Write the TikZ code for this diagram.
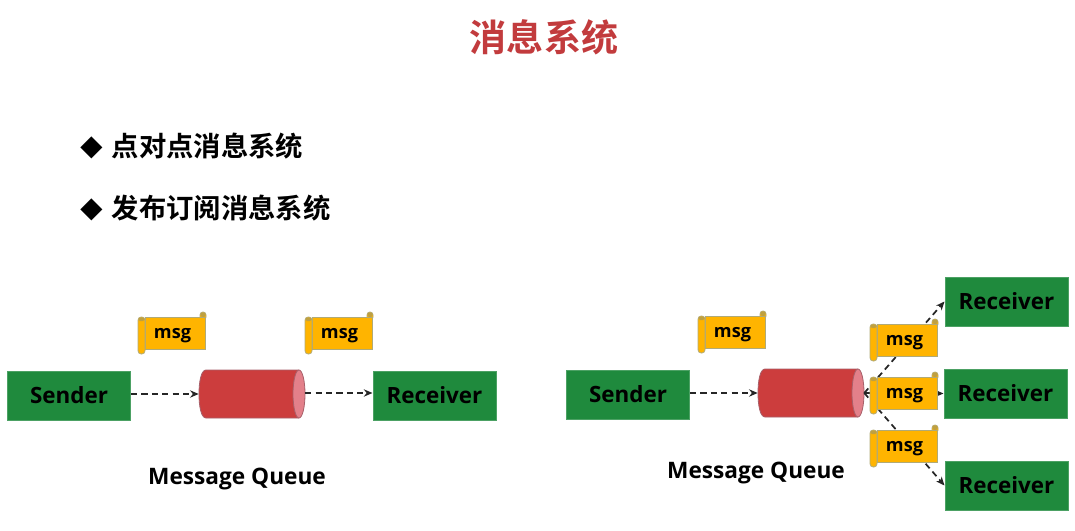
\documentclass[tikz,border=0pt]{standalone}
\usepackage{fontspec}
\setmainfont{Open Sans}
\newfontfamily\cjk{Noto Sans CJK SC}[BoldFont={Noto Sans CJK SC Bold}]
\usetikzlibrary{arrows.meta}
\definecolor{gbox}{HTML}{1F8A3D}
\definecolor{qred}{HTML}{CC3D3D}
\definecolor{qend}{HTML}{E3808A}
\definecolor{qedge}{HTML}{A8606A}
\definecolor{gold}{HTML}{FFB400}
\definecolor{edgeg}{HTML}{B0AA78}
\definecolor{curl}{HTML}{BFA040}
\definecolor{titlered}{HTML}{C23B3D}
\tikzset{
 x=0.75pt,y=-0.75pt,
 boxnode/.style={draw=gbox!80!white,line width=.5pt,fill=gbox,minimum width=92.5pt,minimum height=36.5pt,inner sep=0pt,font=\bfseries\fontsize{16.8}{20}\selectfont,text=black},
 queue/.style={minimum width=79.5pt,minimum height=36pt,inner sep=0pt},
 qline/.style={draw=qedge,line width=.6pt},
 conn/.style={dash pattern=on 4.6pt off 3.2pt,line width=1.3pt,color=black!85,-{Stealth[length=6.5pt,width=5.5pt]}},
 scroll/.style={draw=edgeg,line width=.6pt,fill=gold},
 msgnode/.style={minimum width=45.5pt,minimum height=24pt,inner sep=0pt,font=\bfseries\fontsize{13.6}{15}\selectfont,text=black},
 bullet/.style={anchor=west,inner sep=0pt,font=\cjk\bfseries\fontsize{20.5}{24}\selectfont},
 caption/.style={inner sep=0pt,font=\bfseries\fontsize{17}{20}\selectfont},
}
\newcommand{\msgscroll}[3]{%
 \draw[scroll,rounded corners=2.2pt] (#2+55,#3-5) rectangle (#2+61,#3+3);
 \fill[curl,rounded corners=1.5pt] (#2+55.5,#3-4.5) rectangle (#2+60.5,#3);
 \node[msgnode,scroll] (#1) at (#2+30.5,#3+16) {\hspace*{-4.5pt}\smash{\raisebox{-4.4pt}{msg}}};
 \draw[scroll,rounded corners=2.4pt] (#2-7,#3) rectangle (#2,#3+37);
 \fill[curl,rounded corners=1pt] (#2-6.5,#3+.5) rectangle (#2-.5,#3+4);
}
% centre x, centre y, node name
\newcommand{\queueshape}[3]{%
 \node[queue] (#3) at (#1,#2) {};
 \path[fill=qred,qline] (#1+47,#2-24) -- (#1-46,#2-24)
   .. controls (#1-51,#2-24) and (#1-53,#2-12) .. (#1-53,#2)
   .. controls (#1-53,#2+12) and (#1-51,#2+24) .. (#1-46,#2+24)
   -- (#1+47,#2+24);
 \draw[fill=qend,qline] (#1+47,#2) ellipse [x radius=6,y radius=24];
}
\begin{document}
\begin{tikzpicture}
\useasboundingbox[fill=white] (0,0) rectangle (1075,531);
\node[inner sep=0pt,text=titlered,font=\cjk\bfseries\fontsize{27.8}{32}\selectfont] (title) at (544,37) {消息系统};
\node[bullet] (b1) at (80.5,146) {\makebox[23.4pt][l]{\fontsize{17}{20}\selectfont ◆}点对点消息系统};
\node[bullet] (b2) at (80.5,208.5) {\makebox[23.4pt][l]{\fontsize{17}{20}\selectfont ◆}发布订阅消息系统};
% left
\node[boxnode] (s1) at (69,395.5) {Sender};
\queueshape{252}{394}{q1}
\node[boxnode] (r1) at (434.5,395.5) {Receiver};
\draw[conn] (s1.east |- q1.west) -- (q1.west);
\draw[conn] (q1.east |- 0,393) -- (r1.west |- 0,393);
\msgscroll{m1}{145}{317}
\msgscroll{m2}{312}{317}
\node[caption] (c1) at (237,479.5) {Message Queue};
% right
\node[boxnode] (s2) at (628,394.5) {Sender};
\queueshape{811}{393}{q2}
\node[boxnode] (r2) at (1006.5,301.5) {Receiver};
\node[boxnode] (r3) at (1005.5,393.5) {Receiver};
\node[boxnode] (r4) at (1006.5,485.5) {Receiver};
\draw[conn] (s2.east |- q2.west) -- (q2.west);
\draw[conn] (q2.east) -- (r2.west);
\draw[conn] (q2.east) -- (r3.west);
\draw[conn] (q2.east) -- (r4.west);
\msgscroll{m3}{705}{316}
\msgscroll{m4}{877}{324}
\msgscroll{m5}{877}{377}
\msgscroll{m6}{877}{430}
\node[caption] (c2) at (756,473.5) {Message Queue};
\end{tikzpicture}
\end{document}
